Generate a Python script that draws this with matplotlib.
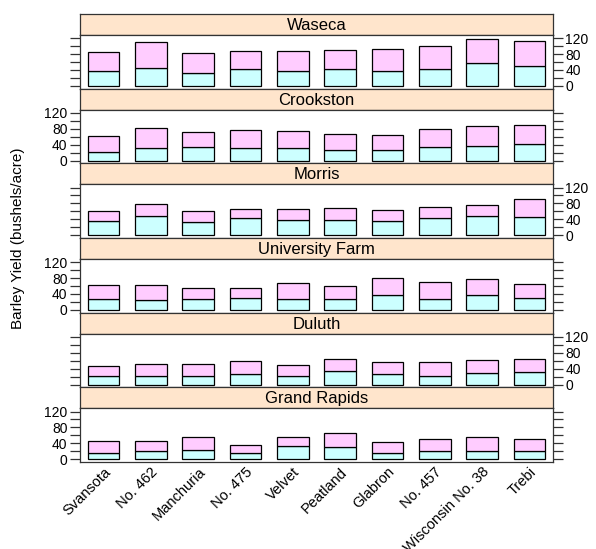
import numpy as np
import matplotlib
matplotlib.use("Agg")
import matplotlib.pyplot as plt

plt.rcParams['font.family'] = ['Liberation Sans', 'DejaVu Sans']

## Data (barley yields, bushels/acre)
varieties = ["Svansota", "No. 462", "Manchuria", "No. 475", "Velvet",
             "Peatland", "Glabron", "No. 457", "Wisconsin No. 38", "Trebi"]
sites = ["Waseca", "Crookston", "Morris", "University Farm", "Duluth", "Grand Rapids"]

# 1932 (bottom, cyan)
y1932_waseca = [38.5, 44.2, 33.5, 41.3, 37.4, 41.7, 37.7, 42.2, 58.2, 49.2]
y1932_crookston = [20.6, 32.5, 33.0, 32.1, 32.1, 26.2, 26.2, 34.3, 35.9, 41.8]
y1932_morris = [35.0, 47.8, 34.4, 44.2, 38.8, 39.0, 35.1, 43.5, 47.2, 46.6]
y1932_univ = [27.4, 25.6, 26.9, 30.0, 26.8, 28.1, 36.8, 26.4, 38.0, 29.1]
y1932_duluth = [22.2, 22.6, 22.6, 27.4, 22.5, 33.0, 25.9, 22.7, 29.3, 30.6]
y1932_grand = [16.6, 19.9, 22.1, 15.2, 32.2, 30.5, 14.4, 19.5, 20.7, 20.6]

# 1931 (top, pink)
y1931_waseca = [47.3, 65.8, 48.9, 46.8, 50.2, 48.6, 55.2, 58.1, 58.8, 63.8]
y1931_crookston = [40.5, 48.6, 39.9, 44.1, 41.3, 41.6, 38.1, 45.7, 49.9, 46.9]
y1931_morris = [25.8, 30.4, 27.4, 22.6, 26.1, 29.9, 28.8, 28.7, 29.5, 43.8]
y1931_univ = [35.1, 36.6, 27.0, 24.7, 39.9, 32.8, 43.1, 43.3, 39.3, 36.6]
y1931_duluth = [25.7, 28.1, 29.0, 33.1, 26.3, 32.0, 29.7, 33.6, 31.6, 33.9]
y1931_grand = [29.7, 24.9, 33.0, 19.7, 23.0, 34.7, 29.1, 32.2, 34.5, 29.8]

bottom_vals = [y1932_waseca, y1932_crookston, y1932_morris, y1932_univ, y1932_duluth, y1932_grand]
top_vals = [y1931_waseca, y1931_crookston, y1931_morris, y1931_univ, y1931_duluth, y1931_grand]

yticks = [0, 20, 40, 60, 80, 100, 120]
ytick_labels = ["0", "", "40", "", "80", "", "120"]

## Layout in pixels
W, H = 596, 549
left, right = 80, 553
top, bot = 14, 462
block = (bot - top) / 6
strip_h = 21

fig = plt.figure(figsize=(W / 100, H / 100), dpi=100)

x = np.arange(len(varieties))
edge = "#333333"
for i, site in enumerate(sites):
    y0 = top + i * block
    # strip
    sax = fig.add_axes([left / W, 1 - (y0 + strip_h) / H, (right - left) / W, strip_h / H])
    sax.set_facecolor("#FFE5CC")
    sax.set_xticks([]); sax.set_yticks([])
    sax.text(0.5, 0.45, site, ha="center", va="center", fontsize=12, transform=sax.transAxes)
    for sp in sax.spines.values():
        sp.set_linewidth(0.9); sp.set_color(edge)
    # panel
    pax = fig.add_axes([left / W, 1 - (y0 + block) / H, (right - left) / W, (block - strip_h) / H])
    pax.bar(x, bottom_vals[i], width=2/3, color="#CCFFFF", edgecolor="black", linewidth=0.9)
    pax.bar(x, top_vals[i], bottom=bottom_vals[i], width=2/3, color="#FFCCFF",
            edgecolor="black", linewidth=0.9)
    pax.set_xlim(-0.5, len(varieties) - 0.5)
    pax.set_ylim(-7, 128)
    pax.set_yticks(yticks)
    pax.tick_params(axis="y", direction="out", length=7, width=0.9, color=edge,
                    labelsize=10, left=True, right=True, pad=2)
    if i % 2 == 0:
        pax.tick_params(axis="y", labelleft=False, labelright=True)
    else:
        pax.tick_params(axis="y", labelleft=True, labelright=False)
    pax.set_yticklabels(ytick_labels)
    if i == len(sites) - 1:
        pax.set_xticks(x)
        pax.set_xticklabels(varieties, rotation=45, ha="right", va="top",
                            rotation_mode="anchor", fontsize=10.5)
        pax.tick_params(axis="x", length=0, pad=2)
    else:
        pax.set_xticks([])
    for sp in pax.spines.values():
        sp.set_linewidth(0.9); sp.set_color(edge)

fig.text(18 / W, 1 - 238 / H, "Barley Yield (bushels/acre)", rotation=90,
         ha="center", va="center", fontsize=11)

fig.savefig("out.png", dpi=100)
